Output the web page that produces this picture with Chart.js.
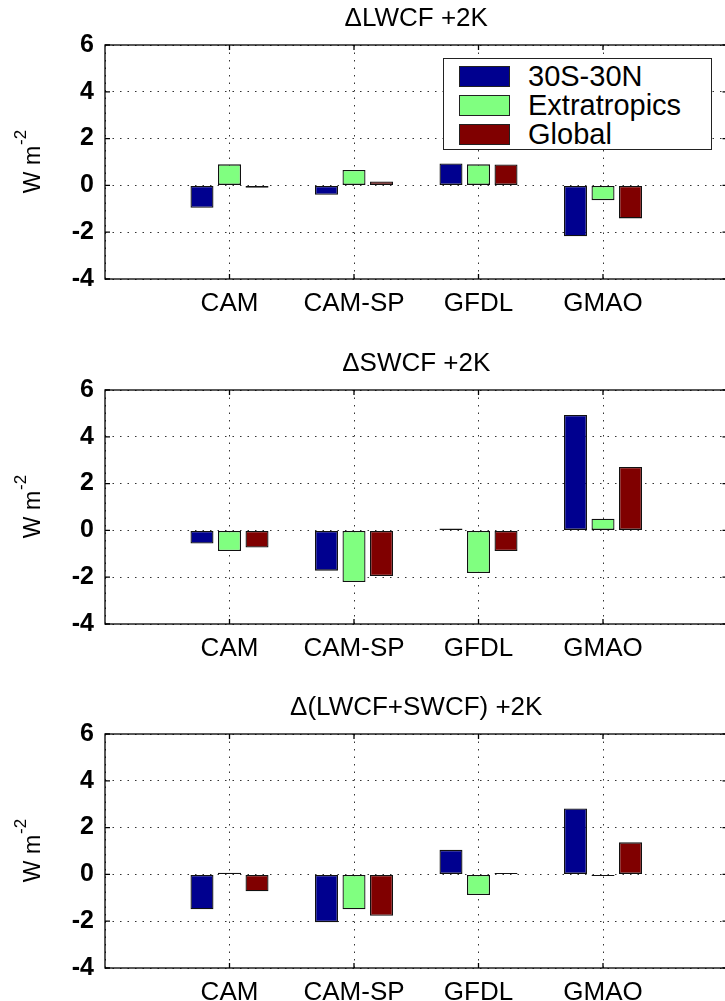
<!DOCTYPE html>
<html>
<head>
<meta charset="utf-8">
<script src="https://cdn.jsdelivr.net/npm/chart.js@4.4.1/dist/chart.umd.min.js"></script>
<style>
  html, body { margin:0; padding:0; background:#fff; overflow:hidden; }
  body { width:725px; height:1001px; position:relative; }
  .panel { position:absolute; left:0; width:740px; height:345px; }
  #legend { position:absolute; left:443px; top:58px; width:267px; height:90px; border:1.3px solid #222; background:#fff;
            font-family:"Liberation Sans", Arial, sans-serif; font-size:29px; color:#000; }
  #legend .row { position:absolute; left:0; height:29px; width:100%; }
  #legend .sw { position:absolute; left:15px; top:4px; width:49px; height:19px; border:1.2px solid #222; }
  #legend .lbl { position:absolute; left:84px; top:0; line-height:29px; }
</style>
</head>
<body>
<div class="panel" style="top:0"><canvas id="c1"></canvas><div id="legend"></div></div>
<div class="panel" style="top:345px"><canvas id="c2"></canvas></div>
<div class="panel" style="top:689px"><canvas id="c3"></canvas></div>
<script>
const models = ['CAM', 'CAM-SP', 'GFDL', 'GMAO'];
const seriesNames = ['30S-30N', 'Extratropics', 'Global'];
const seriesColors = ['#00008f', '#80ff80', '#800000'];
const titles = ['\u0394LWCF +2K', '\u0394SWCF +2K', '\u0394(LWCF+SWCF) +2K'];

// W m-2
const lwcfTropics = [-0.96, -0.40, 0.94, -2.17];
const lwcfExtra   = [ 0.90,  0.66, 0.90, -0.63];
const lwcfGlobal  = [-0.10,  0.17, 0.89, -1.41];

const swcfTropics = [-0.56, -1.72, 0.08, 4.93];
const swcfExtra   = [-0.88, -2.21, -1.82, 0.50];
const swcfGlobal  = [-0.73, -1.95, -0.88, 2.71];

const netTropics = [-1.49, -2.04, 1.05, 2.82];
const netExtra   = [ 0.07, -1.49, -0.88, -0.07];
const netGlobal  = [-0.72, -1.77, 0.06, 1.37];

const yMin = -4, yMax = 6, yStep = 2;

const FONT = '"Liberation Sans", Arial, Helvetica, sans-serif';

// legend
const leg = document.getElementById('legend');
seriesNames.forEach((n,i)=>{
  const r=document.createElement('div');
  r.className='row';
  r.style.top=(3+i*29)+'px';
  r.innerHTML=`<div class="sw" style="background:${seriesColors[i]}"></div><div class="lbl">${n}</div>`;
  leg.appendChild(r);
});

// box round the axes with inward tick marks, like matlab
const framePlugin = {
  id:'frame',
  afterDatasetsDraw(chart){
    const {ctx, chartArea:a, scales} = chart;
    ctx.save();
    ctx.strokeStyle='#000';
    ctx.lineWidth=1.3;
    ctx.beginPath();
    scales.y.ticks.forEach(t=>{
      const y=scales.y.getPixelForValue(t.value);
      ctx.moveTo(a.left,y); ctx.lineTo(a.left+5,y);
      ctx.moveTo(a.right,y); ctx.lineTo(a.right-5,y);
    });
    for(let i=1;i<=models.length;i++){
      const x=scales.x.getPixelForValue(i);
      ctx.moveTo(x,a.bottom); ctx.lineTo(x,a.bottom-5);
      ctx.moveTo(x,a.top); ctx.lineTo(x,a.top+5);
    }
    ctx.stroke();
    ctx.strokeRect(a.left,a.top,a.right-a.left,a.bottom-a.top);
    ctx.restore();
  }
};

// y title with superscript
const yTitlePlugin = {
  id:'ytitle',
  afterDraw(chart){
    const {ctx, chartArea:a} = chart;
    const mainF='23px '+FONT, supF='17px '+FONT;
    ctx.save();
    ctx.translate(40,(a.top+a.bottom)/2);
    ctx.rotate(-Math.PI/2);
    ctx.fillStyle='#000';
    ctx.textBaseline='alphabetic';
    ctx.font=mainF;
    const w1=ctx.measureText('W m').width;
    ctx.font=supF;
    const w2=ctx.measureText('-2').width;
    const x0=-(w1+w2)/2;
    ctx.font=mainF;
    ctx.fillText('W m',x0,0);
    ctx.font=supF;
    ctx.fillText('-2',x0+w1+1,-14);
    ctx.restore();
  }
};

function makeChart(id, title, tro, ext, glo){
  const labels=['', ...models, ''];
  const pad = arr => [null, ...arr, null];
  const sets=[tro,ext,glo].map((d,i)=>({
    label:seriesNames[i],
    data:pad(d),
    backgroundColor:seriesColors[i],
    borderColor:'#111',
    borderWidth:1.3,
    borderSkipped:false,
    categoryPercentage:0.663,
    barPercentage:0.836
  }));
  return new Chart(document.getElementById(id),{
    type:'bar',
    data:{labels,datasets:sets},
    plugins:[framePlugin,yTitlePlugin],
    options:{
      responsive:true,
      maintainAspectRatio:false,
      animation:false,
      devicePixelRatio:1,
      layout:{padding:{left:0,right:12.5,top:0,bottom:0}},
      plugins:{
        legend:{display:false},
        tooltip:{enabled:false},
        title:{display:true,text:title,fullSize:false,color:'#000',
               font:{family:FONT,size:26,weight:'normal',lineHeight:1.2},
               padding:{top:3,bottom:10.8}}
      },
      scales:{
        x:{
          offset:false,
          grid:{offset:false,color:'#333',lineWidth:1,drawTicks:false},
          border:{display:false,dash:[1.5,6]},
          ticks:{color:'#000',font:{family:FONT,size:26},padding:9,
                 maxRotation:0,autoSkip:false},
          afterFit(s){ s.height=66; }
        },
        y:{
          min:yMin,max:yMax,
          grid:{color:'#333',lineWidth:1,drawTicks:false},
          border:{display:false,dash:[1.5,6]},
          ticks:{stepSize:yStep,color:'#000',padding:11,
                 font:{family:FONT,size:25,weight:'bold'}},
          afterFit(s){ s.width=105; }
        }
      }
    }
  });
}

makeChart('c1',titles[0],lwcfTropics,lwcfExtra,lwcfGlobal);
makeChart('c2',titles[1],swcfTropics,swcfExtra,swcfGlobal);
makeChart('c3',titles[2],netTropics,netExtra,netGlobal);
</script>
</body>
</html>
